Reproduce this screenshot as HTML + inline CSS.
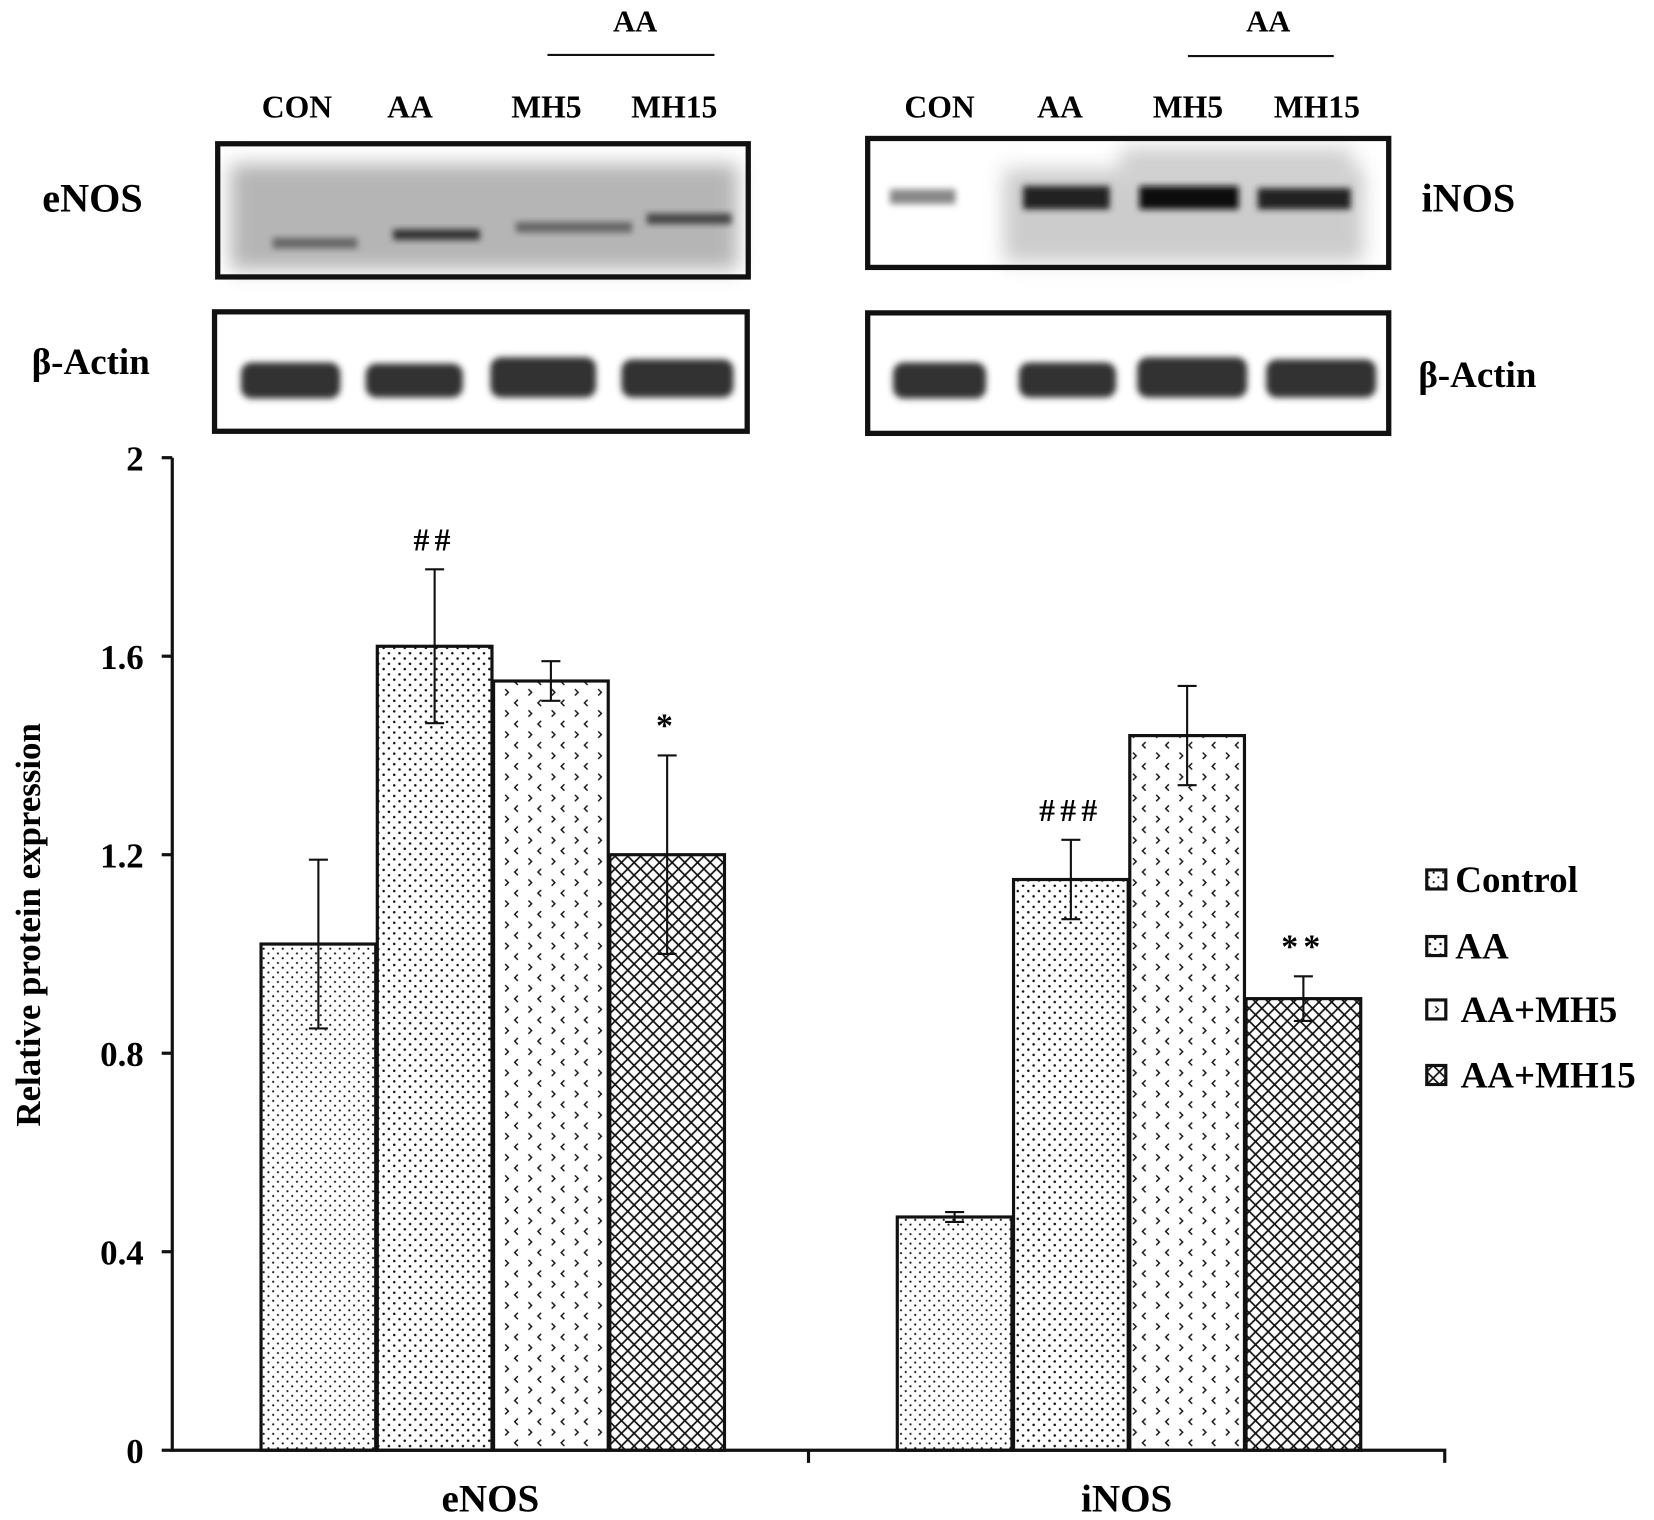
<!DOCTYPE html>
<html><head><meta charset="utf-8">
<style>
html,body{margin:0;padding:0;background:#fff;}
svg{display:block;}
text{font-family:"Liberation Serif",serif;font-weight:bold;fill:#000;}
</style></head>
<body>
<svg id="fig" width="1654" height="1520" viewBox="0 0 1565 1438" preserveAspectRatio="none" xmlns="http://www.w3.org/2000/svg">
<defs>
<filter id="blur3" x="-20%" y="-50%" width="140%" height="200%"><feGaussianBlur stdDeviation="3"/></filter>
<filter id="blur8" x="-20%" y="-50%" width="140%" height="200%"><feGaussianBlur stdDeviation="9"/></filter>
<pattern id="pControl" width="9" height="9" patternUnits="userSpaceOnUse"><rect width="9" height="9" fill="#fff"/><circle cx="2" cy="2" r="1" fill="#111"/><circle cx="6.5" cy="6.5" r="1" fill="#111"/></pattern>
<pattern id="pAA" width="10" height="10" patternUnits="userSpaceOnUse"><rect width="10" height="10" fill="#fff"/><circle cx="3" cy="3" r="1.2" fill="#111"/><circle cx="8" cy="8" r="1.2" fill="#111"/></pattern>
<pattern id="pMH5" width="22" height="20" patternUnits="userSpaceOnUse"><rect width="22" height="20" fill="#fff"/><path d="M6 2 l-3 3 l3 3 M16 12 l3 3 l-3 3" stroke="#111" stroke-width="1.4" fill="none"/></pattern>
<pattern id="pMH15" width="12" height="12" patternUnits="userSpaceOnUse"><rect width="12" height="12" fill="#fff"/><path d="M0 0 L12 12 M12 0 L0 12" stroke="#111" stroke-width="1.6"/></pattern>
</defs>

<g id="blots">
<text x="281" y="111" font-size="30" text-anchor="middle">CON</text>
<text x="388" y="111" font-size="30" text-anchor="middle">AA</text>
<text x="517" y="111" font-size="30" text-anchor="middle">MH5</text>
<text x="638" y="111" font-size="30" text-anchor="middle">MH15</text>
<text x="601" y="30" font-size="29" text-anchor="middle">AA</text>
<line x1="518" y1="52" x2="676" y2="52" stroke="#111" stroke-width="2"/>
<text x="889" y="111" font-size="30" text-anchor="middle">CON</text>
<text x="1003" y="111" font-size="30" text-anchor="middle">AA</text>
<text x="1124" y="111" font-size="30" text-anchor="middle">MH5</text>
<text x="1246" y="111" font-size="30" text-anchor="middle">MH15</text>
<text x="1200" y="30" font-size="29" text-anchor="middle">AA</text>
<line x1="1124" y1="53" x2="1262" y2="53" stroke="#111" stroke-width="2"/>

<text x="40" y="200" font-size="38">eNOS</text>
<text x="30" y="354" font-size="35">β-Actin</text>
<text x="1345" y="200" font-size="38">iNOS</text>
<text x="1342" y="366" font-size="35">β-Actin</text>

<g>
<rect x="208" y="138" width="500" height="123" fill="#fff"/>
<rect x="218" y="155" width="480" height="100" fill="#b5b5b5" filter="url(#blur8)"/>
<rect x="258" y="225" width="80" height="10" fill="#666" filter="url(#blur3)"/>
<rect x="372" y="217" width="82" height="10" fill="#333" filter="url(#blur3)"/>
<rect x="488" y="210" width="110" height="10" fill="#666" filter="url(#blur3)"/>
<rect x="612" y="202" width="80" height="10" fill="#444" filter="url(#blur3)"/>
<rect x="206" y="136" width="502" height="126" fill="none" stroke="#111" stroke-width="5"/>
</g>
<g>
<rect x="228" y="343" width="94" height="34" rx="10" fill="#333" filter="url(#blur3)"/>
<rect x="346" y="344" width="92" height="32" rx="10" fill="#333" filter="url(#blur3)"/>
<rect x="464" y="338" width="100" height="38" rx="10" fill="#333" filter="url(#blur3)"/>
<rect x="588" y="340" width="106" height="36" rx="10" fill="#333" filter="url(#blur3)"/>
<rect x="203" y="295" width="504" height="113" fill="none" stroke="#111" stroke-width="5"/>
</g>
<g>
<rect x="950" y="160" width="340" height="88" fill="#ccc" filter="url(#blur8)"/>
<rect x="1060" y="140" width="220" height="40" fill="#d0d0d0" filter="url(#blur8)"/>
<rect x="842" y="179" width="62" height="14" fill="#888" filter="url(#blur3)"/>
<rect x="968" y="176" width="82" height="22" fill="#222" filter="url(#blur3)"/>
<rect x="1078" y="176" width="94" height="22" fill="#111" filter="url(#blur3)"/>
<rect x="1190" y="178" width="88" height="20" fill="#222" filter="url(#blur3)"/>
<rect x="821" y="131" width="493" height="122" fill="none" stroke="#111" stroke-width="5"/>
</g>
<g>
<rect x="845" y="343" width="88" height="34" rx="10" fill="#333" filter="url(#blur3)"/>
<rect x="964" y="343" width="92" height="33" rx="10" fill="#333" filter="url(#blur3)"/>
<rect x="1076" y="338" width="104" height="38" rx="10" fill="#333" filter="url(#blur3)"/>
<rect x="1198" y="340" width="104" height="36" rx="10" fill="#333" filter="url(#blur3)"/>
<rect x="821" y="296" width="493" height="114" fill="none" stroke="#111" stroke-width="5"/>
</g>
</g>

<g id="chart"></g>
</svg>
<script>
const groups = ["eNOS", "iNOS"];
const seriesNames = ["Control", "AA", "AA+MH5", "AA+MH15"];
const controlVals = [1.02, 0.47];
const aaVals = [1.62, 1.15];
const mh5Vals = [1.55, 1.44];
const mh15Vals = [1.20, 0.91];
const controlErr = [0.17, 0.01];
const aaErr = [0.155, 0.08];
const mh5Err = [0.04, 0.10];
const mh15Err = [0.20, 0.045];
const sigLabels = [["", "##", "", "*"], ["", "###", "", "**"]];
const yTicks = [0, 0.4, 0.8, 1.2, 1.6, 2];
const yTickLabels = ["0", "0.4", "0.8", "1.2", "1.6", "2"];

const NS = "http://www.w3.org/2000/svg";
const chart = document.getElementById("chart");
const X0 = 163, X1 = 1367, Y0 = 1372, Y1 = 433, YMAX = 2;
const yScale = v => Y0 - (v / YMAX) * (Y0 - Y1);
const groupW = (X1 - X0) / groups.length;
const barW = 108.5, gap = 1.5;
const barX = (g, s) => X0 + g * groupW + 84 + s * (barW + gap);
function mk(tag, attrs, parent) {
  const e = document.createElementNS(NS, tag);
  for (const k in attrs) e.setAttribute(k, attrs[k]);
  (parent || chart).appendChild(e);
  return e;
}
const vals = [controlVals, aaVals, mh5Vals, mh15Vals];
const errs = [controlErr, aaErr, mh5Err, mh15Err];
const pats = ["pControl", "pAA", "pMH5", "pMH15"];

groups.forEach((gname, g) => {
  vals.forEach((arr, s) => {
    const v = arr[g], x = barX(g, s), y = yScale(v);
    const r = mk("rect", {x: x, y: y, width: barW, height: Y0 - y, fill: "url(#" + pats[s] + ")", stroke: "#111", "stroke-width": 3});
    
    
    const cx = x + barW / 2, e = errs[s][g];
    const eb = mk("path", {d: `M${cx} ${yScale(v - e)} V${yScale(v + e)} M${cx - 9} ${yScale(v + e)} H${cx + 9} M${cx - 9} ${yScale(v - e)} H${cx + 9}`, stroke: "#111", "stroke-width": 2, fill: "none"});
    
    
    const lab = sigLabels[g][s];
    if (lab) {
      const t = mk("text", {x: cx, y: yScale(v + e) - 18, "font-size": lab.startsWith("#") ? 30 : 32, "text-anchor": "middle", "font-weight": "normal", "letter-spacing": 5});
      
      
      t.textContent = lab;
    }
  });
  const t = mk("text", {x: X0 + g * groupW + groupW / 2, y: 1430, "font-size": 37, "text-anchor": "middle"});
  
  
  t.textContent = gname;
});

const ax = mk("path", {d: `M${X0} ${Y1} V${Y0} H${X1} V${Y0 + 12} M${X0 + groupW} ${Y0} V${Y0 + 12}`, stroke: "#111", "stroke-width": 3, fill: "none"});


yTicks.forEach((v, i) => {
  const y = yScale(v);
  const tk = mk("line", {x1: X0 - 10, y1: y, x2: X0, y2: y, stroke: "#111", "stroke-width": 3});
  
  
  const t = mk("text", {x: 136, y: y + 12, "font-size": 33, "text-anchor": "end"});
  
  
  t.textContent = yTickLabels[i];
});
const yt = mk("text", {x: 0, y: 0, "font-size": 33, "text-anchor": "middle", transform: "translate(38,875) rotate(-90)"});


yt.textContent = "Relative protein expression";

const legY = [832, 895, 955, 1017];
seriesNames.forEach((n, i) => {
  const y = legY[i];
  const sw = mk("rect", {x: 1350, y: y - 9, width: 18, height: 18, fill: "url(#" + pats[i] + ")", stroke: "#111", "stroke-width": 3});
  
  
  const t = mk("text", {x: i >= 2 ? 1382 : 1377, y: y + 12, "font-size": 35});
  
  
  t.textContent = n;
});
</script>
</body></html>
